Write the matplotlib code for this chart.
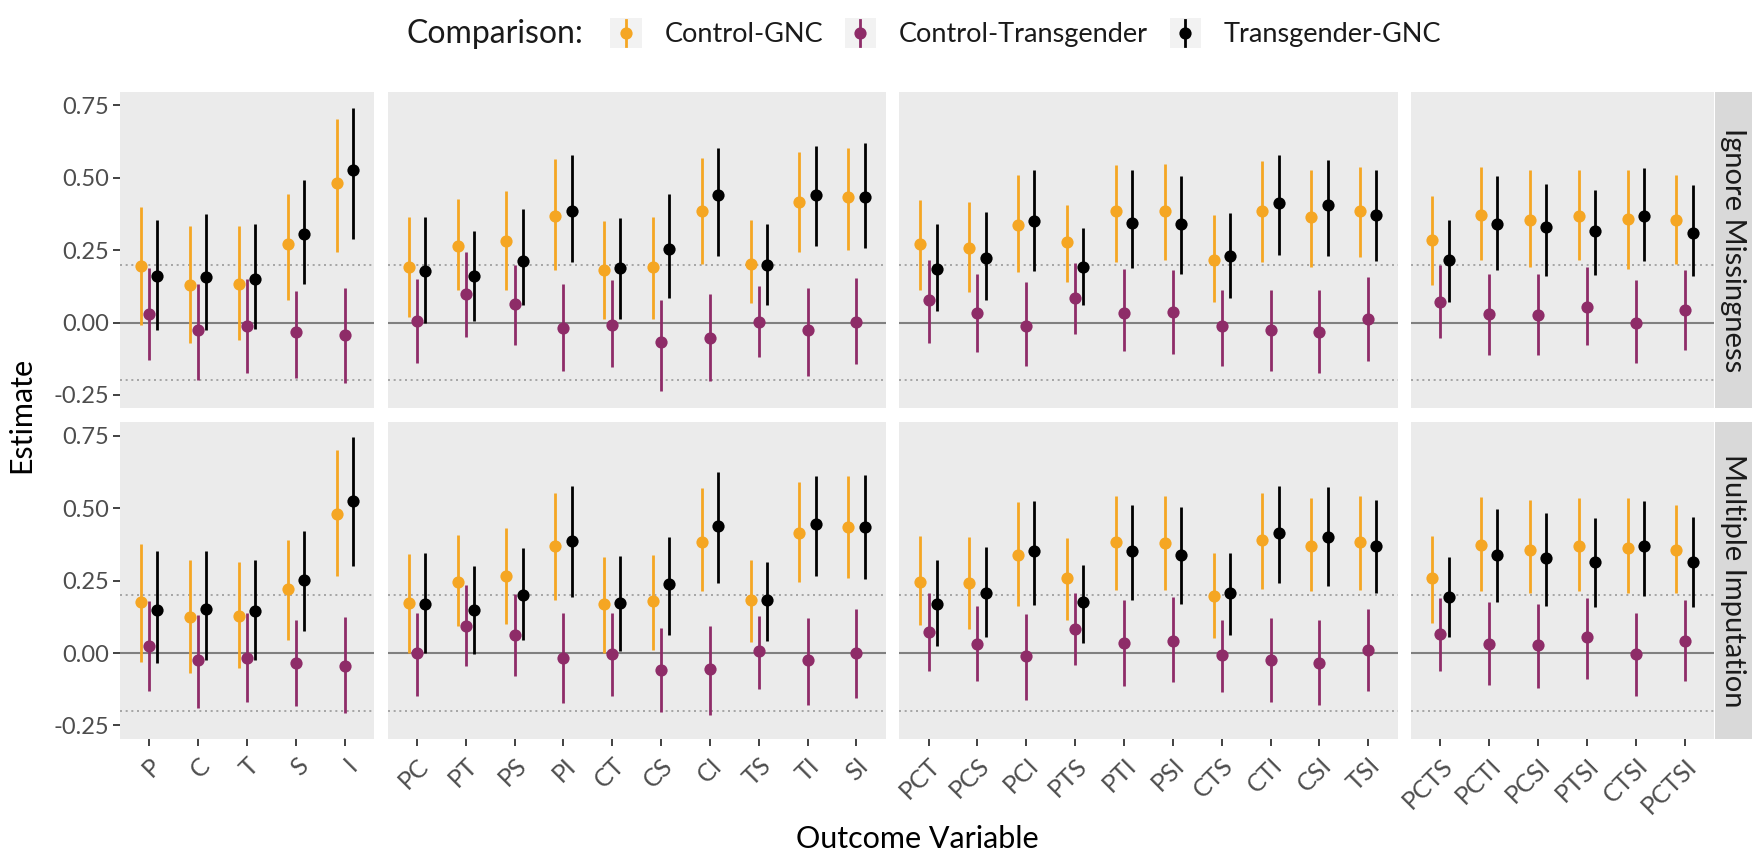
import numpy as np
import matplotlib
matplotlib.use("Agg")
import matplotlib.pyplot as plt
from matplotlib.legend_handler import HandlerBase
from matplotlib.lines import Line2D
from matplotlib.patches import Rectangle

plt.rcParams['font.family'] = ['Lato', 'DejaVu Sans']

# ---------------- data ----------------
facet_cats = [
    ["P", "C", "T", "S", "I"],
    ["PC", "PT", "PS", "PI", "CT", "CS", "CI", "TS", "TI", "SI"],
    ["PCT", "PCS", "PCI", "PTS", "PTI", "PSI", "CTS", "CTI", "CSI", "TSI"],
    ["PCTS", "PCTI", "PCSI", "PTSI", "CTSI", "PCTSI"],
]
methods = ["Ignore Missingness", "Multiple Imputation"]
comparisons = ["Control-GNC", "Control-Transgender", "Transgender-GNC"]
colors = ["#F5A623", "#8E2C68", "#000000"]

# Ignore Missingness
ign_cg_est = [0.194, 0.131, 0.134, 0.272, 0.482,
              0.192, 0.263, 0.282, 0.367, 0.180, 0.192, 0.384, 0.201, 0.416, 0.433,
              0.272, 0.259, 0.338, 0.278, 0.384, 0.384, 0.217, 0.385, 0.364, 0.384,
              0.284, 0.370, 0.353, 0.368, 0.359, 0.355]
ign_cg_lo = [-0.010, -0.070, -0.060, 0.077, 0.244,
             0.020, 0.111, 0.111, 0.180, 0.014, 0.014, 0.203, 0.066, 0.244, 0.249,
             0.111, 0.106, 0.175, 0.140, 0.209, 0.215, 0.071, 0.209, 0.192, 0.226,
             0.129, 0.217, 0.192, 0.215, 0.186, 0.203]
ign_cg_hi = [0.399, 0.335, 0.332, 0.443, 0.703,
             0.364, 0.428, 0.454, 0.566, 0.351, 0.364, 0.569, 0.353, 0.589, 0.603,
             0.424, 0.416, 0.508, 0.405, 0.543, 0.548, 0.370, 0.557, 0.525, 0.537,
             0.436, 0.537, 0.525, 0.525, 0.525, 0.508]

ign_ct_est = [0.028, -0.026, -0.013, -0.034, -0.044,
              0.005, 0.100, 0.063, -0.018, -0.007, -0.067, -0.053, 0.002, -0.026, 0.002,
              0.079, 0.033, -0.013, 0.085, 0.033, 0.037, -0.011, -0.024, -0.034, 0.014,
              0.071, 0.031, 0.025, 0.054, -0.003, 0.045]
ign_ct_lo = [-0.130, -0.199, -0.174, -0.193, -0.210,
             -0.141, -0.049, -0.078, -0.168, -0.155, -0.236, -0.201, -0.118, -0.185, -0.144,
             -0.070, -0.101, -0.151, -0.038, -0.099, -0.110, -0.149, -0.167, -0.174, -0.132,
             -0.055, -0.113, -0.113, -0.078, -0.139, -0.095]
ign_ct_hi = [0.190, 0.134, 0.150, 0.109, 0.121,
             0.152, 0.244, 0.198, 0.132, 0.148, 0.077, 0.098, 0.125, 0.121, 0.155,
             0.215, 0.167, 0.140, 0.206, 0.186, 0.180, 0.114, 0.114, 0.111, 0.157,
             0.198, 0.167, 0.169, 0.192, 0.146, 0.180]

ign_tg_est = [0.161, 0.157, 0.152, 0.305, 0.528,
              0.177, 0.161, 0.213, 0.385, 0.189, 0.255, 0.439, 0.198, 0.441, 0.433,
              0.186, 0.224, 0.351, 0.192, 0.345, 0.339, 0.229, 0.413, 0.405, 0.370,
              0.215, 0.341, 0.330, 0.316, 0.367, 0.309]
ign_tg_lo = [-0.026, -0.026, -0.021, 0.134, 0.290,
             0.000, 0.006, 0.060, 0.209, 0.014, 0.085, 0.229, 0.060, 0.263, 0.259,
             0.040, 0.077, 0.178, 0.060, 0.190, 0.167, 0.086, 0.232, 0.229, 0.213,
             0.071, 0.180, 0.160, 0.163, 0.213, 0.160]
ign_tg_hi = [0.355, 0.374, 0.341, 0.491, 0.740,
             0.364, 0.316, 0.393, 0.577, 0.362, 0.443, 0.603, 0.341, 0.611, 0.620,
             0.341, 0.382, 0.528, 0.326, 0.525, 0.505, 0.378, 0.580, 0.562, 0.528,
             0.353, 0.505, 0.479, 0.459, 0.533, 0.474]

# Multiple Imputation
mi_cg_est = [0.175, 0.124, 0.129, 0.221, 0.480,
             0.172, 0.244, 0.267, 0.370, 0.170, 0.178, 0.382, 0.184, 0.416, 0.434,
             0.244, 0.241, 0.339, 0.259, 0.382, 0.379, 0.198, 0.389, 0.370, 0.385,
             0.259, 0.374, 0.356, 0.368, 0.362, 0.356]
mi_cg_lo = [-0.030, -0.070, -0.050, 0.046, 0.267,
            0.000, 0.092, 0.101, 0.184, 0.000, 0.011, 0.213, 0.037, 0.247, 0.259,
            0.098, 0.083, 0.161, 0.115, 0.216, 0.216, 0.052, 0.221, 0.213, 0.218,
            0.103, 0.213, 0.207, 0.213, 0.209, 0.207]
mi_cg_hi = [0.377, 0.322, 0.313, 0.391, 0.700,
            0.343, 0.408, 0.431, 0.554, 0.331, 0.339, 0.569, 0.322, 0.589, 0.611,
            0.405, 0.400, 0.520, 0.397, 0.543, 0.543, 0.345, 0.552, 0.534, 0.543,
            0.405, 0.538, 0.529, 0.534, 0.534, 0.511]

mi_ct_est = [0.025, -0.023, -0.017, -0.034, -0.044,
             0.000, 0.094, 0.063, -0.017, -0.002, -0.057, -0.055, 0.006, -0.025, 0.000,
             0.071, 0.032, -0.011, 0.083, 0.034, 0.040, -0.008, -0.023, -0.034, 0.011,
             0.067, 0.032, 0.029, 0.055, -0.002, 0.040]
mi_ct_lo = [-0.132, -0.190, -0.170, -0.182, -0.207,
            -0.149, -0.046, -0.080, -0.172, -0.147, -0.205, -0.213, -0.124, -0.178, -0.155,
            -0.063, -0.098, -0.161, -0.040, -0.113, -0.101, -0.136, -0.170, -0.178, -0.132,
            -0.063, -0.109, -0.121, -0.090, -0.147, -0.098]
mi_ct_hi = [0.180, 0.130, 0.140, 0.113, 0.126,
            0.140, 0.236, 0.205, 0.138, 0.140, 0.086, 0.094, 0.129, 0.121, 0.152,
            0.207, 0.163, 0.136, 0.207, 0.182, 0.195, 0.113, 0.121, 0.113, 0.152,
            0.190, 0.175, 0.170, 0.190, 0.140, 0.182]

mi_tg_est = [0.147, 0.152, 0.144, 0.251, 0.525,
             0.170, 0.149, 0.201, 0.387, 0.172, 0.238, 0.439, 0.182, 0.446, 0.434,
             0.170, 0.209, 0.351, 0.175, 0.351, 0.339, 0.207, 0.414, 0.402, 0.370,
             0.195, 0.339, 0.328, 0.313, 0.368, 0.316]
mi_tg_lo = [-0.034, -0.025, -0.025, 0.075, 0.301,
            0.000, -0.002, 0.046, 0.195, 0.006, 0.063, 0.241, 0.040, 0.267, 0.255,
            0.023, 0.057, 0.167, 0.034, 0.182, 0.170, 0.063, 0.241, 0.230, 0.207,
            0.057, 0.175, 0.161, 0.159, 0.198, 0.159]
mi_tg_hi = [0.351, 0.351, 0.322, 0.420, 0.745,
            0.347, 0.301, 0.362, 0.577, 0.336, 0.402, 0.626, 0.316, 0.611, 0.615,
            0.322, 0.366, 0.526, 0.305, 0.511, 0.503, 0.347, 0.577, 0.572, 0.529,
            0.331, 0.497, 0.485, 0.466, 0.526, 0.469]

data = {
    "Ignore Missingness": [(ign_cg_est, ign_cg_lo, ign_cg_hi),
                           (ign_ct_est, ign_ct_lo, ign_ct_hi),
                           (ign_tg_est, ign_tg_lo, ign_tg_hi)],
    "Multiple Imputation": [(mi_cg_est, mi_cg_lo, mi_cg_hi),
                            (mi_ct_est, mi_ct_lo, mi_ct_hi),
                            (mi_tg_est, mi_tg_lo, mi_tg_hi)],
}
yticks = [-0.25, 0.0, 0.25, 0.50, 0.75]
ref_lines = [-0.2, 0.2]

# ---------------- layout ----------------
FW, FH = 1752, 855
fig = plt.figure(figsize=(FW / 100, FH / 100), dpi=100)
left0, unit, gap = 120.0, 48.85, 13.5
top0, row_h, row_gap = 92.0, 316.0, 14.5
strip_w = 37.0
ylim = (-0.295, 0.796)
dodge = [-1 / 6, 0.0, 1 / 6]
PANEL_BG = "#EBEBEB"
LW = 2.0
MS = 8.8


def rect(x, y, w, h):
    return [x / FW, 1 - (y + h) / FH, w / FW, h / FH]


starts = []
x = left0
for cats in facet_cats:
    starts.append(x)
    x += (len(cats) + 0.2) * unit + gap
right_edge = starts[-1] + (len(facet_cats[-1]) + 0.2) * unit

for r, m in enumerate(methods):
    ytop = top0 + r * (row_h + row_gap)
    offset = 0
    for j, cats in enumerate(facet_cats):
        n = len(cats)
        w = (n + 0.2) * unit
        ax = fig.add_axes(rect(starts[j], ytop, w, row_h))
        ax.set_facecolor(PANEL_BG)
        for s in ax.spines.values():
            s.set_visible(False)
        ax.set_xlim(-0.6, n - 0.4)
        ax.set_ylim(*ylim)
        ax.axhline(0, color="#808080", lw=1.5, zorder=1)
        for rl in ref_lines:
            ax.axhline(rl, color="#9A9A9A", lw=1.2, ls=(0, (1.2, 2.2)), zorder=1)
        xs = np.arange(n)
        sl = slice(offset, offset + n)
        for g, (est, lo, hi) in enumerate(data[m]):
            l = np.array(lo[sl]); h = np.array(hi[sl])
            ax.vlines(xs + dodge[g], l, h, color=colors[g], lw=LW, zorder=2)
        for g, (est, lo, hi) in enumerate(data[m]):
            e = np.array(est[sl])
            ax.plot(xs + dodge[g], e, 'o', color=colors[g], ms=MS,
                    mew=0, zorder=3)
        ax.set_xticks(xs)
        ax.set_yticks(yticks)
        ax.tick_params(axis='both', colors="#333333", length=5, width=1.3,
                       labelsize=17, labelcolor="#4D4D4D")
        ax.tick_params(axis='x', pad=6, labelsize=18)
        ax.tick_params(axis='y', pad=3)
        if j == 0:
            ax.set_yticklabels([f"{v:.2f}" for v in yticks])
        else:
            ax.tick_params(axis='y', left=False, labelleft=False)
        if r == 1:
            ax.set_xticklabels(cats, rotation=45, ha='right', va='top',
                               rotation_mode='anchor')
        else:
            ax.tick_params(axis='x', bottom=False, labelbottom=False)
        offset += n
    # strip
    sax = fig.add_axes(rect(right_edge + 1, ytop, strip_w, row_h))
    sax.set_facecolor("#D9D9D9")
    sax.set_xticks([]); sax.set_yticks([])
    for s in sax.spines.values():
        s.set_visible(False)
    sax.text(0.5, 0.5, m, rotation=270, ha='center', va='center',
             fontsize=21, color="#1A1A1A", transform=sax.transAxes)


class PointRangeHandler(HandlerBase):
    def create_artists(self, legend, orig, xd, yd, width, height, fontsize, trans):
        bg = Rectangle((-xd, -yd), width, height, facecolor="#F2F2F2",
                       edgecolor="none", transform=trans)
        cx = width / 2 - xd
        cy = height / 2 - yd
        line = Line2D([cx, cx], [-yd + 0.05 * height, -yd + 0.95 * height],
                      color=orig.get_color(), lw=LW, transform=trans)
        pt = Line2D([cx], [cy], marker='o', ms=MS, mew=0,
                    color=orig.get_color(), lw=0, transform=trans)
        return [bg, line, pt]


handles = [Line2D([], [], color=c, marker='o', lw=0) for c in colors]
leg = fig.legend(handles, comparisons, loc='center left',
                 bbox_to_anchor=(586 / FW, 1 - 33 / FH), ncol=3,
                 frameon=False, fontsize=19.5, handlelength=1.15,
                 handleheight=1.3, handletextpad=0.85, columnspacing=0.8,
                 handler_map={Line2D: PointRangeHandler()})
for t in leg.get_texts():
    t.set_color("#1A1A1A")

fig.text(407 / FW, 1 - 43 / FH, "Comparison:", fontsize=23, ha='left',
         va='baseline', color="#1A1A1A")
fig.text(21 / FW, 1 - 415 / FH, "Estimate", fontsize=22, rotation=90,
         ha='center', va='center', color="#000000")
fig.text(917 / FW, 1 - 848 / FH, "Outcome Variable", fontsize=22,
         ha='center', va='baseline', color="#000000")

fig.savefig("out.png", dpi=100)
